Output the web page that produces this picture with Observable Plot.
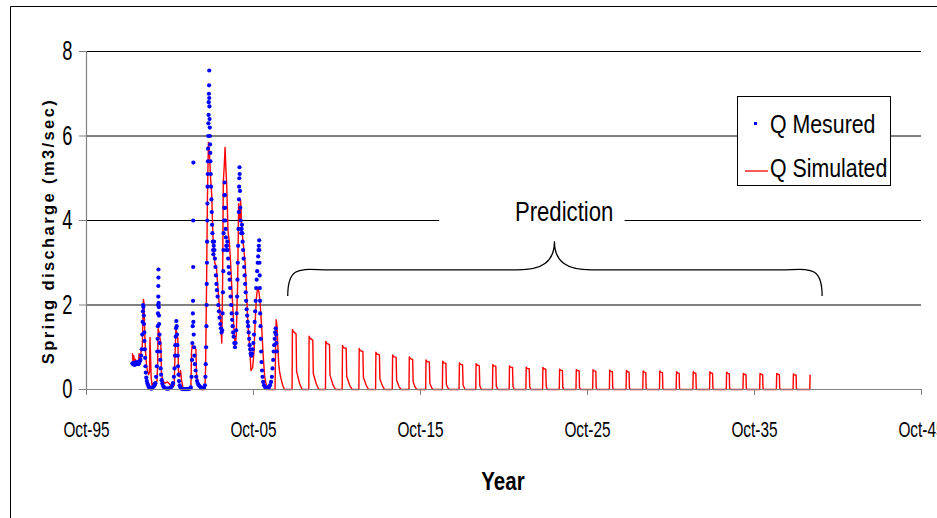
<!DOCTYPE html>
<html><head><meta charset="utf-8">
<script src="https://cdn.jsdelivr.net/npm/d3@7"></script>
<script src="https://cdn.jsdelivr.net/npm/@observablehq/plot@0.6"></script>
<style>
html,body{margin:0;padding:0;background:#fff;overflow:hidden;}
#chart svg{display:block;}
</style></head><body><div id="chart"></div>
<script>
// ---- axis ticks ----
const xTickValues = [1995.75, 2005.75, 2015.75, 2025.75, 2035.75, 2045.75];
const xTickLabels = ["Oct-95", "Oct-05", "Oct-15", "Oct-25", "Oct-35", "Oct-45"];
const yTickValues = [0, 2, 4, 6, 8];
const gridValues = [2, 4, 6, 8];
const seriesNames = ["Q Mesured", "Q Simulated"];
const annotationText = ["Prediction"];
const xTitle = "Year";
const yTitle = "Spring discharge (m3/sec)";

// ---- measured discharge [decimal year, m3/s] ----
const measured = [
[1998.50,0.62],[1998.54,0.60],[1998.58,0.63],[1998.62,0.58],[1998.66,0.61],[1998.70,0.64],[1998.74,0.60],[1998.78,0.62],[1998.82,0.65],[1998.86,0.60],[1998.90,0.63],[1998.94,0.66],[1998.98,0.70],[1999.02,0.80],[1999.06,0.95],
[1999.09,1.3],[1999.11,1.6],[1999.13,1.85],[1999.14,2.0],[1999.16,1.95],[1999.18,1.75],[1999.19,1.55],[1999.21,1.35],[1999.22,1.15],[1999.24,0.95],[1999.26,0.75],[1999.28,0.55],[1999.30,0.4],[1999.33,0.28],[1999.36,0.2],[1999.40,0.14],[1999.44,0.1],[1999.48,0.06],[1999.53,0.04],[1999.58,0.03],[1999.64,0.02],[1999.70,0.04],[1999.76,0.07],[1999.82,0.1],[1999.87,0.15],[1999.92,0.3],[1999.96,0.55],[1999.99,0.9],
[2000.01,1.2],[2000.02,1.5],[2000.03,1.8],[2000.04,2.0],[2000.05,2.2],[2000.05,2.45],[2000.06,2.65],[2000.06,2.84],[2000.07,2.05],[2000.08,1.95],[2000.09,1.75],[2000.10,1.55],[2000.12,1.3],[2000.13,1.1],[2000.15,0.9],[2000.17,0.7],[2000.19,0.5],[2000.22,0.35],[2000.25,0.22],[2000.29,0.14],[2000.34,0.08],[2000.40,0.05],[2000.48,0.03],[2000.56,0.02],[2000.64,0.02],[2000.72,0.03],[2000.80,0.05],[2000.87,0.08],[2000.93,0.15],[2000.98,0.3],
[2001.02,0.5],[2001.05,0.8],[2001.07,1.05],[2001.09,1.25],[2001.11,1.45],[2001.13,1.62],[2001.15,1.5],[2001.17,1.3],[2001.19,1.05],[2001.21,0.8],[2001.23,0.55],[2001.26,0.35],[2001.29,0.2],[2001.33,0.1],[2001.38,0.05],[2001.45,0.02],[2001.52,0.01],[2001.60,0.01],[2001.68,0.01],[2001.76,0.01],[2001.84,0.01],[2001.92,0.02],
[2002.00,0.05],[2002.04,0.3],[2002.07,0.7],[2002.09,1.1],[2002.11,1.5],[2002.12,1.8],[2002.13,2.1],[2002.14,2.9],[2002.14,4.0],[2002.15,5.37],[2002.15,1.6],[2002.17,1.3],[2002.19,1.0],[2002.21,0.8],[2002.24,0.6],[2002.28,0.45],[2002.32,0.3],[2002.37,0.2],[2002.42,0.14],[2002.48,0.1],[2002.55,0.07],[2002.62,0.04],[2002.70,0.03],[2002.78,0.04],[2002.84,0.1],
[2002.87,0.3],[2002.89,0.6],[2002.91,1.0],[2002.93,1.5],[2002.94,2.0],[2002.95,2.5],[2002.96,3.0],[2002.97,3.5],[2002.98,4.0],[2002.99,4.4],[2003.00,4.8],[2003.01,5.1],[2003.02,5.4],[2003.03,5.7],[2003.04,6.0],[2003.05,6.3],[2003.06,6.5],[2003.07,6.8],[2003.08,7.0],[2003.09,7.2],[2003.10,7.55],[2003.10,6.9],[2003.11,6.7],[2003.12,6.4],[2003.13,6.2],[2003.14,6.0],[2003.15,5.8],[2003.16,5.6],[2003.17,5.4],[2003.19,5.1],[2003.21,4.8],[2003.23,4.5],[2003.25,4.2],[2003.27,3.9],[2003.29,3.7],[2003.31,3.5],[2003.33,3.3],[2003.35,3.2],[2003.37,3.4],[2003.39,3.5],[2003.41,3.3],[2003.44,3.1],[2003.47,2.9],[2003.50,2.7],[2003.53,2.5],[2003.56,2.35],[2003.60,2.2],[2003.64,2.0],[2003.68,1.85],[2003.72,1.7],[2003.76,1.55],[2003.80,1.45],[2003.84,1.35],
[2003.87,1.4],[2003.90,1.8],[2003.92,2.3],[2003.94,2.8],[2003.95,3.3],[2003.96,3.7],[2003.98,4.0],[2003.99,4.3],[2004.01,4.6],[2004.02,4.9],[2004.03,4.6],[2004.05,4.3],[2004.06,4.0],[2004.08,3.8],[2004.10,3.6],[2004.12,3.4],[2004.14,3.3],[2004.16,3.4],[2004.18,3.5],[2004.20,3.3],[2004.23,3.1],[2004.26,2.9],[2004.29,2.75],[2004.32,2.6],[2004.35,2.4],[2004.38,2.2],[2004.41,2.0],[2004.44,1.8],[2004.47,1.65],[2004.50,1.5],[2004.53,1.35],[2004.56,1.25],[2004.60,1.1],[2004.64,1.0],
[2004.68,1.1],[2004.71,1.4],[2004.74,1.8],[2004.77,2.2],[2004.79,2.6],[2004.81,3.0],[2004.83,3.4],[2004.85,3.8],[2004.87,4.2],[2004.88,4.5],[2004.89,4.8],[2004.90,5.0],[2004.91,5.26],[2004.92,5.1],[2004.94,4.7],[2004.96,4.3],[2004.98,4.0],[2005.00,3.8],[2005.02,3.7],[2005.04,3.8],[2005.06,3.9],[2005.08,3.7],[2005.10,3.5],[2005.13,3.3],[2005.16,3.1],[2005.19,2.9],[2005.22,2.7],[2005.25,2.5],[2005.28,2.3],[2005.31,2.1],[2005.34,1.9],[2005.37,1.75],[2005.40,1.6],[2005.43,1.5],[2005.46,1.35],[2005.49,1.2],[2005.52,1.05],[2005.55,0.95],[2005.58,0.85],[2005.62,0.8],
[2005.66,0.85],[2005.70,0.95],[2005.74,1.1],[2005.78,1.3],[2005.82,1.6],[2005.85,1.85],[2005.88,2.1],[2005.91,2.4],[2005.94,2.6],[2005.97,2.8],[2006.00,3.0],[2006.03,3.15],[2006.05,3.3],[2006.07,3.4],[2006.09,3.53],[2006.10,3.3],[2006.11,3.0],[2006.12,2.7],[2006.13,2.4],[2006.14,2.1],[2006.15,1.8],[2006.17,1.5],[2006.19,1.2],[2006.21,0.9],[2006.23,0.65],[2006.26,0.45],[2006.29,0.3],[2006.33,0.18],[2006.38,0.1],[2006.44,0.06],[2006.50,0.04],[2006.56,0.03],[2006.62,0.04],[2006.68,0.06],[2006.74,0.1],[2006.80,0.18],
[2006.85,0.3],[2006.89,0.5],[2006.93,0.7],[2006.96,0.9],[2006.99,1.05],[2007.02,1.2],[2007.05,1.35],[2007.08,1.45],[2007.10,1.3],[2007.12,1.1],[2007.14,0.9]
];

// ---- simulated discharge [decimal year, m3/s] (calibration + prediction) ----
const simulated = [
[1998.50,0.85],[1998.54,0.62],[1998.58,0.80],[1998.63,0.55],[1998.68,0.72],[1998.73,0.58],[1998.78,0.66],[1998.84,0.60],[1998.90,0.85],[1998.96,0.68],[1999.03,0.95],[1999.09,1.00],[1999.13,1.7],[1999.16,2.13],[1999.19,2.05],[1999.22,1.6],[1999.26,1.1],[1999.30,0.8],[1999.35,0.55],[1999.40,0.45],[1999.46,0.35],[1999.52,0.4],[1999.55,1.23],[1999.58,0.9],[1999.62,0.3],[1999.68,0.08],[1999.75,0.15],[1999.82,0.05],[1999.90,0.1],[1999.97,0.2],
[2000.01,0.6],[2000.04,1.44],[2000.09,1.35],[2000.20,1.1],[2000.24,0.4],[2000.32,0.2],[2000.45,0.15],[2000.60,0.18],[2000.75,0.12],[2000.90,0.05],[2001.00,0.1],[2001.05,0.8],[2001.10,1.4],[2001.14,1.38],[2001.22,1.2],[2001.26,0.4],[2001.32,0.3],[2001.38,0.45],[2001.45,0.2],[2001.55,0],[2001.75,0],[2002.00,0],
[2002.04,0.9],[2002.08,1.04],[2002.20,1.0],[2002.30,0.95],[2002.34,0.35],[2002.45,0.15],[2002.58,0],[2002.84,0],[2002.88,0.5],[2002.94,2.5],[2002.99,4.5],[2003.05,5.85],[2003.11,5.6],[2003.18,5.0],[2003.25,4.6],[2003.33,3.5],[2003.43,3.0],[2003.53,2.9],[2003.60,2.5],[2003.70,2.0],[2003.78,1.6],[2003.85,1.1],
[2003.90,2.5],[2003.94,4.9],[2004.00,5.3],[2004.05,5.73],[2004.10,5.2],[2004.15,4.8],[2004.22,3.76],[2004.30,3.5],[2004.38,3.0],[2004.45,2.42],[2004.55,1.63],[2004.65,1.0],[2004.72,1.3],[2004.80,2.5],[2004.86,4.4],[2004.93,4.0],[2004.98,4.47],[2005.05,3.8],[2005.15,3.4],[2005.25,3.0],[2005.32,2.4],[2005.42,1.5],[2005.48,1.24],[2005.55,0.8],[2005.60,0.45],[2005.70,0.52],[2005.78,0.9],[2005.85,1.6],[2005.93,2.2],[2006.00,2.42],[2006.08,2.3],[2006.15,2.03],[2006.25,1.4],[2006.33,0.8],[2006.42,0.3],[2006.52,0.1],[2006.60,0],[2007.04,0],
[2007.08,1.2],[2007.11,1.65],[2007.16,1.5],[2007.21,1.0],[2007.26,0.6],[2007.32,0.4],[2007.40,0.25],[2007.50,0.1],[2007.60,0],
[2008.06,0],[2008.08,1.42],[2008.14,1.37],[2008.30,1.32],[2008.33,0.43],[2008.51,0.14],[2008.66,0],
[2009.06,0],[2009.08,1.26],[2009.14,1.21],[2009.30,1.17],[2009.33,0.38],[2009.51,0.13],[2009.66,0],
[2010.06,0],[2010.08,1.14],[2010.14,1.09],[2010.30,1.06],[2010.33,0.34],[2010.51,0.11],[2010.66,0],
[2011.06,0],[2011.08,1.04],[2011.14,0.99],[2011.30,0.97],[2011.33,0.31],[2011.51,0.10],[2011.66,0],
[2012.06,0],[2012.08,0.97],[2012.14,0.92],[2012.30,0.90],[2012.33,0.29],[2012.50,0.10],[2012.64,0],
[2013.06,0],[2013.08,0.88],[2013.14,0.84],[2013.29,0.82],[2013.32,0.25],[2013.48,0.08],[2013.60,0],
[2014.06,0],[2014.08,0.82],[2014.14,0.78],[2014.29,0.76],[2014.32,0.22],[2014.46,0.07],[2014.58,0],
[2015.06,0],[2015.08,0.77],[2015.14,0.73],[2015.28,0.71],[2015.31,0.18],[2015.44,0.05],[2015.54,0],
[2016.06,0],[2016.08,0.70],[2016.14,0.66],[2016.28,0.65],[2016.31,0.15],[2016.42,0.04],[2016.50,0],
[2017.06,0],[2017.08,0.67],[2017.14,0.63],[2017.27,0.62],[2017.30,0.12],[2017.40,0.03],[2017.48,0],
[2018.06,0],[2018.08,0.63],[2018.14,0.60],[2018.27,0.58],[2018.30,0.10],[2018.42,0],
[2019.06,0],[2019.08,0.61],[2019.14,0.58],[2019.27,0.56],[2019.30,0.09],[2019.40,0],
[2020.06,0],[2020.08,0.59],[2020.14,0.56],[2020.26,0.55],[2020.29,0.08],[2020.38,0],
[2021.06,0],[2021.08,0.56],[2021.14,0.53],[2021.26,0.52],[2021.29,0.07],[2021.37,0],
[2022.06,0],[2022.08,0.53],[2022.14,0.50],[2022.26,0.49],[2022.29,0.06],[2022.36,0],
[2023.06,0],[2023.08,0.52],[2023.14,0.49],[2023.25,0.48],[2023.28,0.06],[2023.35,0],
[2024.06,0],[2024.08,0.48],[2024.14,0.46],[2024.25,0.45],[2024.27,0.05],[2024.33,0],
[2025.06,0],[2025.08,0.47],[2025.14,0.45],[2025.25,0.44],[2025.27,0.05],[2025.33,0],
[2026.06,0],[2026.08,0.47],[2026.14,0.44],[2026.25,0.43],[2026.27,0.04],[2026.32,0],
[2027.06,0],[2027.08,0.46],[2027.14,0.43],[2027.24,0.42],[2027.26,0.04],[2027.31,0],
[2028.06,0],[2028.08,0.45],[2028.14,0.42],[2028.24,0.41],[2028.26,0.04],[2028.31,0],
[2029.06,0],[2029.08,0.44],[2029.14,0.41],[2029.24,0.40],[2029.26,0.03],[2029.30,0],
[2030.06,0],[2030.08,0.44],[2030.14,0.41],[2030.24,0.40],[2030.26,0.03],[2030.30,0],
[2031.06,0],[2031.08,0.42],[2031.14,0.39],[2031.24,0.38],[2031.26,0.03],[2031.30,0],
[2032.06,0],[2032.08,0.42],[2032.14,0.39],[2032.24,0.38],[2032.26,0.03],[2032.30,0],
[2033.06,0],[2033.08,0.42],[2033.14,0.39],[2033.24,0.38],[2033.26,0.03],[2033.30,0],
[2034.06,0],[2034.08,0.41],[2034.14,0.38],[2034.24,0.37],[2034.26,0.03],[2034.30,0],
[2035.06,0],[2035.08,0.38],[2035.14,0.36],[2035.24,0.35],[2035.26,0.03],[2035.30,0],
[2036.06,0],[2036.08,0.38],[2036.14,0.36],[2036.24,0.35],[2036.26,0.03],[2036.30,0],
[2037.06,0],[2037.08,0.38],[2037.14,0.36],[2037.24,0.35],[2037.26,0.03],[2037.30,0],
[2038.06,0],[2038.08,0.37],[2038.14,0.35],[2038.24,0.34],[2038.26,0.03],[2038.30,0],
[2039.06,0],[2039.08,0.34]
];

const sans = '"Liberation Sans",Arial,sans-serif';
const xDomain = [xTickValues[0], xTickValues[xTickValues.length - 1]];

const plot = Plot.plot({
  width: 937,
  height: 518,
  marginLeft: 86,
  marginRight: 16,
  marginTop: 51,
  marginBottom: 129,
  style: {background: "white", overflow: "hidden", fontFamily: sans, color: "black"},
  x: {type: "linear", domain: xDomain},
  y: {domain: [0, 8]},
  marks: [
    Plot.ruleY(gridValues, {stroke: "#000", strokeWidth: 1}),
    Plot.rect([{x1: 2016.9, x2: 2028.0, y1: 3.75, y2: 4.3}], {x1: "x1", x2: "x2", y1: "y1", y2: "y2", fill: "white"}),
    Plot.text(annotationText, {x: 2024.35, y: 4.2, text: d => d, fontSize: 27, fontFamily: sans, fill: "black"}),
    Plot.line(simulated, {x: d => d[0], y: d => d[1], stroke: "#ff0000", strokeWidth: 1.4}),
    Plot.dot(measured, {x: d => d[0], y: d => d[1], r: 2.1, fill: "#0000ff", stroke: "none"}),
    Plot.ruleY([0], {stroke: "#808080", strokeWidth: 1.2}),
    Plot.ruleX([xDomain[0]], {stroke: "#808080", strokeWidth: 1.2}),
    Plot.axisX({ticks: xTickValues, tickFormat: d => xTickLabels[xTickValues.indexOf(d)], tickSize: 6, tickPadding: 26, fontSize: 22, fontFamily: sans, stroke: "#808080", label: null}),
    Plot.axisY({ticks: yTickValues, tickFormat: d => String(d), tickSize: 7, tickPadding: 7, fontSize: 27, fontFamily: sans, stroke: "#808080", label: null})
  ]
});
document.getElementById("chart").appendChild(plot);

const svg = d3.select(plot);
const sx = v => plot.scale("x").apply(v);
const sy = v => plot.scale("y").apply(v);

// condense text horizontally (keeps its position and anchor)
function condense(el, k) {
  const len = el.getComputedTextLength();
  if (len > 0) {
    el.setAttribute("textLength", (len * k).toFixed(2));
    el.setAttribute("lengthAdjust", "spacingAndGlyphs");
  }
}

// outer frame (left and top edges visible)
svg.append("path").attr("d", "M10.5,518 V6.5 H937").attr("fill", "none").attr("stroke", "#000").attr("stroke-width", 1);

// brace over the prediction period
const xl = sx(2007.83), xr = sx(2039.83), xm = sx(2023.8);
const yEnd = sy(2.2), yH = sy(2.82), yTip = sy(3.5);
const bp = `M${xl},${yEnd} C${xl},${yH - 6} ${xl + 14},${yH} ${xl + 42},${yH} L${xm - 37},${yH} C${xm - 12},${yH} ${xm},${yH - 8} ${xm},${yTip} C${xm},${yH - 8} ${xm + 12},${yH} ${xm + 37},${yH} L${xr - 42},${yH} C${xr - 14},${yH} ${xr},${yH - 6} ${xr},${yEnd}`;
svg.append("path").attr("d", bp).attr("fill", "none").attr("stroke", "#000").attr("stroke-width", 1.3);

// axis titles
svg.append("text").attr("class", "cond").attr("x", 503).attr("y", 481).attr("text-anchor", "middle").attr("dominant-baseline", "central")
  .style("font-family", sans).style("font-weight", "bold").style("font-size", "25px").text(xTitle);
svg.append("text").attr("transform", "translate(48,231) rotate(-90)").attr("text-anchor", "middle").attr("dominant-baseline", "central")
  .style("font-family", sans).style("font-weight", "bold").style("font-size", "16.5px").style("letter-spacing", "2.4px").text(yTitle);

// legend
const lg = svg.append("g").attr("text-anchor", "start");
lg.append("rect").attr("x", 737.5).attr("y", 96.5).attr("width", 153).attr("height", 89).attr("fill", "white").attr("stroke", "#000");
lg.append("rect").attr("x", 754).attr("y", 122).attr("width", 3).attr("height", 3).attr("fill", "#0000ff");
lg.append("line").attr("x1", 745).attr("x2", 768).attr("y1", 171).attr("y2", 171).attr("stroke", "#ff0000").attr("stroke-width", 1.3);
[[seriesNames[0], 133], [seriesNames[1], 177]].forEach(([s, y]) => {
  lg.append("text").attr("class", "cond").attr("text-anchor", "start").attr("x", 770).attr("y", y)
    .style("font-family", sans).style("font-size", "26px").text(s);
});

// apply the horizontal condensing once everything is in the document
requestAnimationFrame(() => {
  svg.selectAll('g[aria-label="x-axis tick label"] text').each(function() { condense(this, 0.7); });
  svg.selectAll('g[aria-label="y-axis tick label"] text').each(function() { condense(this, 0.68); });
  svg.selectAll('g[aria-label="text"] text, text.cond').each(function() { condense(this, 0.82); });
});
</script></body></html>
